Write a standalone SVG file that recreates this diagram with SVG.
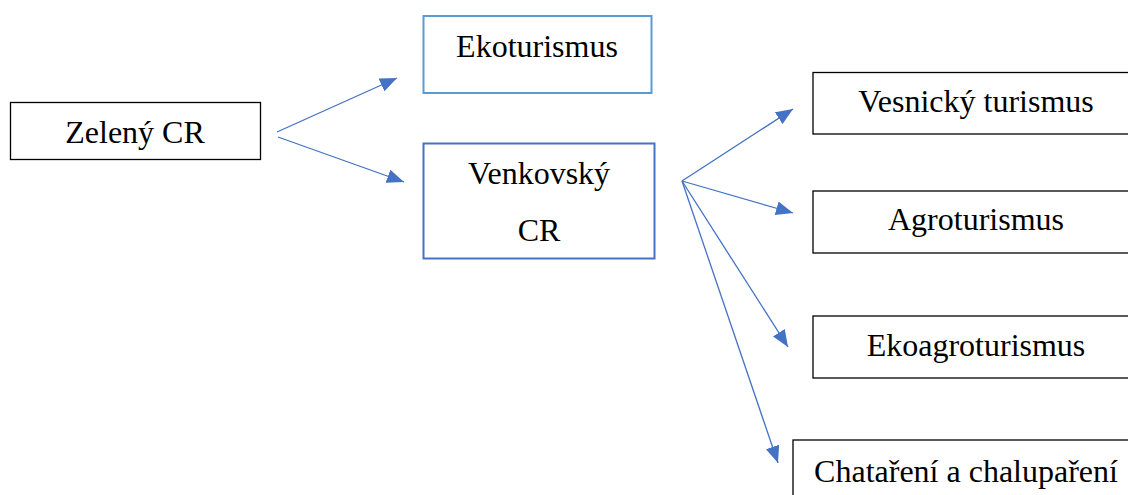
<svg xmlns="http://www.w3.org/2000/svg" width="1128" height="495" viewBox="0 0 1128 495">
<style>
text{font-family:"Liberation Serif","Times New Roman",serif;font-size:32px;fill:#000;text-anchor:middle}
.b{fill:#fff;stroke:#000;stroke-width:1.3}
.c{stroke:#4472C4;stroke-width:1.3;fill:none;marker-end:url(#ah)}
</style>
<defs>
<marker id="ah" markerUnits="userSpaceOnUse" markerWidth="18" markerHeight="14" viewBox="0 0 18 14" refX="17" refY="7" orient="auto">
<path d="M0,0 L17,7 L0,14 Z" fill="#4472C4"/>
</marker>
</defs>
<rect width="1128" height="495" fill="#fff"/>
<g id="connectors">
<line class="c" x1="277" y1="132" x2="397" y2="78"/>
<line class="c" x1="278" y1="137" x2="404" y2="182"/>
<line class="c" x1="682" y1="181" x2="793" y2="109"/>
<line class="c" x1="682" y1="181" x2="793" y2="213"/>
<line class="c" x1="682" y1="181" x2="788" y2="347"/>
<line class="c" x1="682" y1="181" x2="778" y2="463"/>
</g>
<g id="zeleny">
<rect class="b" x="10.5" y="102.5" width="250" height="57"/>
<text x="135" y="143">Zelený CR</text>
</g>
<g id="ekoturismus">
<rect x="423.5" y="16" width="228" height="77" fill="#fff" stroke="#5B9BD5" stroke-width="2"/>
<text x="537" y="57">Ekoturismus</text>
</g>
<g id="venkovsky">
<rect x="423.5" y="143.5" width="231" height="115" fill="#fff" stroke="#4472C4" stroke-width="2"/>
<text x="539" y="184">Venkovský</text>
<text x="539" y="241">CR</text>
</g>
<g id="vesnicky">
<rect class="b" x="813" y="72.5" width="320" height="61.5"/>
<text x="976" y="112">Vesnický turismus</text>
</g>
<g id="agroturismus">
<rect class="b" x="813" y="191" width="320" height="62"/>
<text x="976" y="230">Agroturismus</text>
</g>
<g id="ekoagroturismus">
<rect class="b" x="813" y="316" width="320" height="62"/>
<text x="976" y="356">Ekoagroturismus</text>
</g>
<g id="chatareni">
<rect class="b" x="793" y="440" width="340" height="70"/>
<text x="966" y="482">Chataření a chalupaření</text>
</g>
</svg>
